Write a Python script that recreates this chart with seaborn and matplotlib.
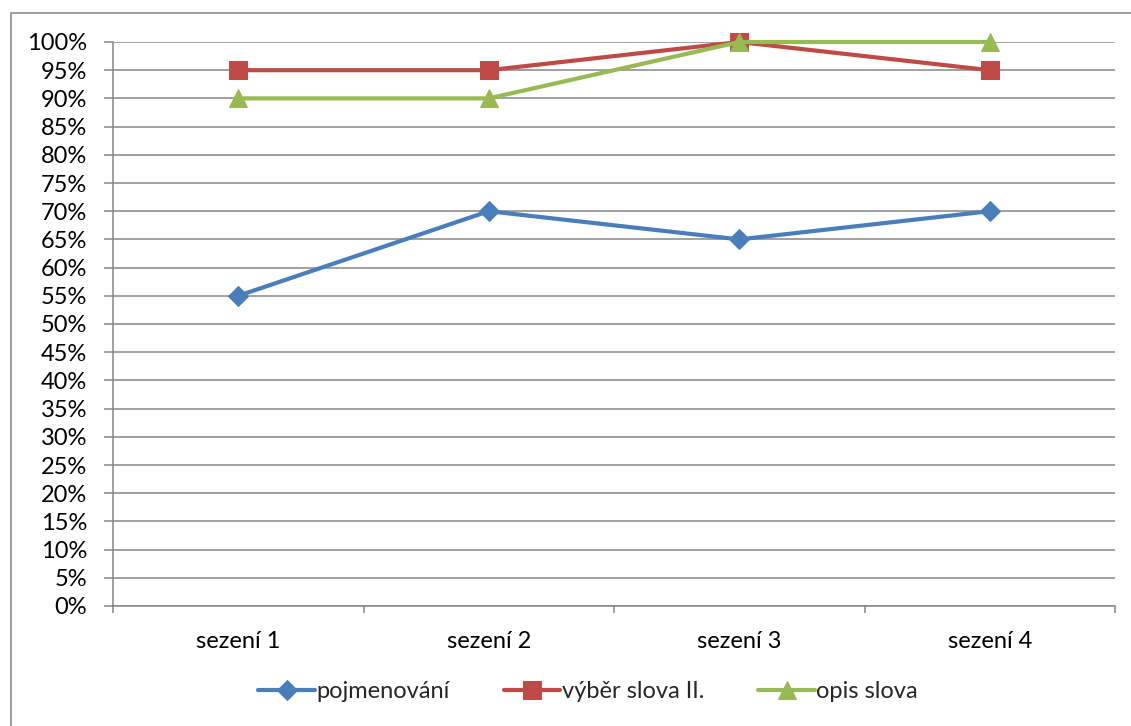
import matplotlib
matplotlib.use("Agg")
import matplotlib.pyplot as plt
from matplotlib.patches import Rectangle
from matplotlib.ticker import FixedLocator, PercentFormatter
import seaborn as sns
import pandas as pd

sessions = ["sezení 1", "sezení 2", "sezení 3", "sezení 4"]
series_names = ["pojmenování", "výběr slova II.", "opis slova"]
pojmenovani = [55, 70, 65, 70]
vyber_slova = [95, 95, 100, 95]
opis_slova = [90, 90, 100, 100]
y_ticks = list(range(0, 101, 5))

colors = {"pojmenování": "#4A7EBB", "výběr slova II.": "#BE4B48", "opis slova": "#98B954"}
markers = {"pojmenování": "D", "výběr slova II.": "s", "opis slova": "^"}
sizes = {"pojmenování": 10, "výběr slova II.": 12.5, "opis slova": 13}

rows = []
for name, vals in zip(series_names, [pojmenovani, vyber_slova, opis_slova]):
    for i, (s, v) in enumerate(zip(sessions, vals)):
        rows.append({"pos": i, "session": s, "value": v, "series": name})
df = pd.DataFrame(rows)

sns.set_theme(style="white")
plt.rcParams["font.family"] = ["Lato", "DejaVu Sans"]

fig = plt.figure(figsize=(11.31, 7.26), dpi=100)
ax = fig.add_axes([113 / 1131, 1 - 606 / 726, (1115 - 113) / 1131, (606 - 42) / 726])

grid_c = "#868686"
fs = 17
for name in series_names:
    sub = df[df["series"] == name]
    sns.lineplot(data=sub, x="pos", y="value", ax=ax, color=colors[name],
                 marker=markers[name], markersize=sizes[name],
                 markeredgecolor=colors[name], linewidth=3, label=name,
                 zorder=3, clip_on=False)

ax.set_xlim(-0.5, 3.5)
ax.set_ylim(0, 100)
ax.yaxis.set_major_locator(FixedLocator(y_ticks))
ax.yaxis.set_major_formatter(PercentFormatter(decimals=0))
ax.set_xticks(range(len(sessions)))
ax.set_xticklabels(sessions)
ax.xaxis.set_minor_locator(FixedLocator([-0.5, 0.5, 1.5, 2.5, 3.5]))
ax.set_xlabel("")
ax.set_ylabel("")

ax.grid(axis="y", color=grid_c, linewidth=1.1, zorder=0)
ax.set_axisbelow(True)
for side in ["top", "right"]:
    ax.spines[side].set_visible(False)
for side in ["left", "bottom"]:
    ax.spines[side].set_color(grid_c)
    ax.spines[side].set_linewidth(1.1)

ax.tick_params(axis="y", which="major", direction="out", length=6.5, width=1.1,
               color=grid_c, pad=12, labelsize=fs, labelcolor="black", left=True)
ax.tick_params(axis="x", which="major", length=0, pad=18, labelsize=fs, labelcolor="black")
ax.tick_params(axis="x", which="minor", direction="out", length=5, width=1.1,
               color=grid_c, bottom=True)

ax.get_legend().remove()
handles, labels = ax.get_legend_handles_labels()
fig.legend(handles, labels, loc="center", bbox_to_anchor=(0.52, 1 - 692 / 726),
           ncol=3, frameon=False, fontsize=fs, handlelength=2.4,
           handletextpad=0.05, columnspacing=2.3)

fig.patches.append(Rectangle((11 / 1131, -0.1), 1.2, (1 - 13 / 726) + 0.1,
                             transform=fig.transFigure, fill=False,
                             edgecolor=grid_c, linewidth=1.1))

fig.savefig("out.png", dpi=100)
